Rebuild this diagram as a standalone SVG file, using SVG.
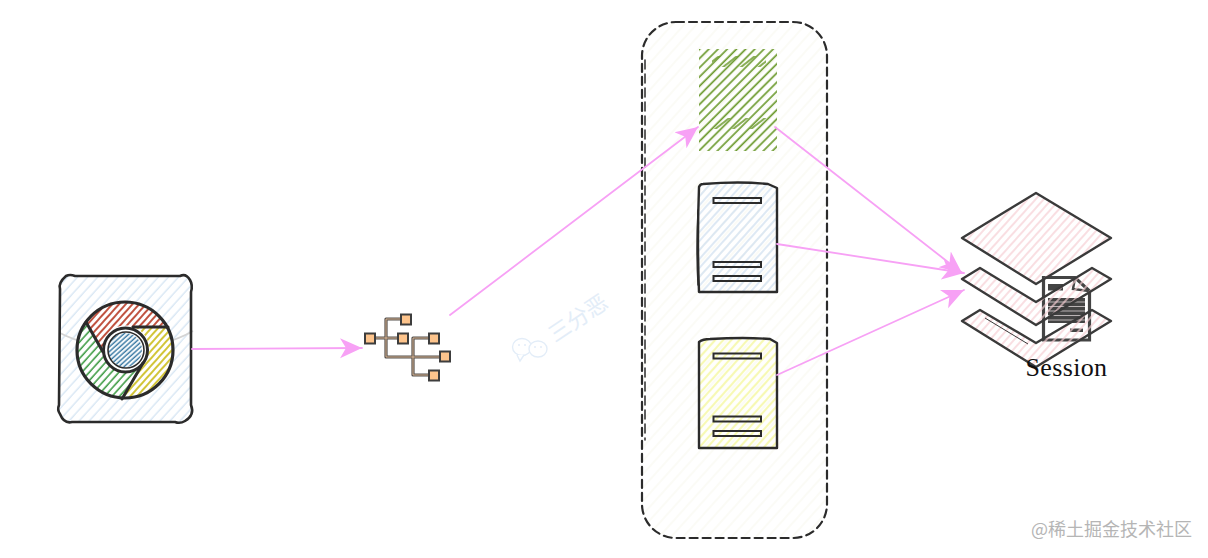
<svg xmlns="http://www.w3.org/2000/svg" width="1208" height="558" viewBox="0 0 1208 558">
<style>
.ink{fill:none;stroke:#2b2b2b;stroke-linecap:round;stroke-linejoin:round}
.c{fill:none;stroke:#f7a1f5;stroke-width:1.8;stroke-linecap:round}
.bar{fill:none;stroke:#2b2b2b;stroke-width:2}
.sq{fill:#fdc48c;stroke:#3d3d3d;stroke-width:2}
.net{fill:none;stroke:#55504d;stroke-width:3.2;stroke-linejoin:round}
.netin{fill:none;stroke:#e8c09a;stroke-width:.9}
.sess{stroke:#3a3a3a;stroke-width:2.4;stroke-linejoin:round;fill:url(#hPink)}
.wm{font-family:"Noto Sans CJK SC","Liberation Sans",sans-serif}
</style>
<defs>
<pattern id="hBlue" width="7.500" height="40" patternUnits="userSpaceOnUse" patternTransform="rotate(42)"><line x1="3" y1="0" x2="3" y2="40" stroke="#d5e4f3" stroke-width="1.300"/></pattern>
<pattern id="hBlue2" width="6" height="40" patternUnits="userSpaceOnUse" patternTransform="rotate(42)"><line x1="3" y1="0" x2="3" y2="40" stroke="#d3e2f1" stroke-width="1.500"/></pattern>
<pattern id="hYellow" width="6" height="40" patternUnits="userSpaceOnUse" patternTransform="rotate(42)"><line x1="3" y1="0" x2="3" y2="40" stroke="#f7f9b4" stroke-width="2.200"/></pattern>
<pattern id="hGreen" width="6.500" height="40" patternUnits="userSpaceOnUse" patternTransform="rotate(45)"><line x1="3" y1="0" x2="3" y2="40" stroke="#6c9a2e" stroke-width="1.700"/></pattern>
<pattern id="hGreen2" width="11" height="40" patternUnits="userSpaceOnUse" patternTransform="rotate(52)"><line x1="3" y1="0" x2="3" y2="40" stroke="#6c9a2e" stroke-width="1.600"/></pattern>
<pattern id="hPale" width="9" height="40" patternUnits="userSpaceOnUse" patternTransform="rotate(42)"><line x1="3" y1="0" x2="3" y2="40" stroke="#fafaf4" stroke-width="1.600"/></pattern>
<pattern id="hPink" width="6" height="40" patternUnits="userSpaceOnUse" patternTransform="rotate(42)"><line x1="3" y1="0" x2="3" y2="40" stroke="#f6cdd3" stroke-width="1.300"/></pattern>
<pattern id="hRed" width="5" height="40" patternUnits="userSpaceOnUse" patternTransform="rotate(42)"><line x1="2" y1="0" x2="2" y2="40" stroke="#b5341e" stroke-width="1.700"/></pattern>
<pattern id="hGr" width="5.500" height="40" patternUnits="userSpaceOnUse" patternTransform="rotate(42)"><line x1="2" y1="0" x2="2" y2="40" stroke="#3f9c45" stroke-width="1.600"/></pattern>
<pattern id="hYe" width="5" height="40" patternUnits="userSpaceOnUse" patternTransform="rotate(42)"><line x1="2" y1="0" x2="2" y2="40" stroke="#cdbf22" stroke-width="1.800"/></pattern>
<pattern id="hBl" width="3.500" height="40" patternUnits="userSpaceOnUse" patternTransform="rotate(48)"><line x1="2" y1="0" x2="2" y2="40" stroke="#3a79a3" stroke-width="1.500"/></pattern>
<marker id="arr" markerUnits="userSpaceOnUse" markerWidth="24" markerHeight="22" refX="22" refY="11" orient="auto"><path d="M0 1 L22 11 L0 21 L6 11 Z" fill="#f7a1f5"/></marker>
</defs>
<rect width="1208" height="558" fill="#fff"/>

<g id="container">
<rect x="642" y="22" width="185" height="516" rx="34" fill="url(#hPale)"/>
<rect x="642" y="22" width="185" height="516" rx="34" class="ink" stroke-width="2.200" stroke-dasharray="8 5"/>
<path d="M645 60V440" class="ink" stroke-width="1.500" stroke-dasharray="9 5"/>
</g>

<g id="browser">
<path d="M60 289Q58 283 66 276Q70 274 75 276H180Q186 273 190 280Q193 285 191 292V405Q195 415 185 421Q180 424 175 422H72Q64 424 60 414Q57 410 59 405Z" fill="url(#hBlue)"/>
<path d="M60 333Q85 346 125 349Q165 347 193 331" fill="none" stroke="#d4d4d4" stroke-width="1.800"/>
<circle cx="125" cy="350" r="48" fill="#fff"/>
<path d="M86 322A48 48 0 0 1 168 327H133A22 22 0 0 0 103 350Z" fill="url(#hRed)"/>
<path d="M168 327A48 48 0 0 1 122 398L143 363A22 22 0 0 0 133 327Z" fill="url(#hYe)"/>
<path d="M86 322A48 48 0 0 0 122 398L143 363A22 22 0 0 1 103 350Z" fill="url(#hGr)"/>
<circle cx="125" cy="350" r="17" fill="#fff"/>
<circle cx="125" cy="350" r="17" fill="url(#hBl)"/>
<path d="M60 289Q58 283 66 276Q70 274 75 276H180Q186 273 190 280Q193 285 191 292V405Q195 415 185 421Q180 424 175 422H72Q64 424 60 414Q57 410 59 405Z" class="ink" stroke-width="2.600"/>
<circle cx="125" cy="350" r="48" class="ink" stroke-width="3.200"/>
<circle cx="125.500" cy="350" r="22" class="ink" stroke-width="3"/>
<circle cx="126" cy="350" r="18" class="ink" stroke-width="1.600"/>
<path d="M86 322L103 352M133 327H168M143 363L122 399" class="ink" stroke-width="3"/>
</g>

<g id="gateway">
<path d="M403 319H386V357H445M370 338H402M433 338H413V375H433" class="net"/>
<path d="M403 319H386V357H445M370 338H402M433 338H413V375H433" class="netin"/>
<rect x="401" y="314.500" width="10" height="10" class="sq"/>
<rect x="365" y="333.500" width="10" height="10" class="sq"/>
<rect x="398" y="333.500" width="10" height="10" class="sq"/>
<rect x="429" y="333.500" width="10" height="10" class="sq"/>
<rect x="440" y="351.500" width="10" height="10" class="sq"/>
<rect x="429" y="370.500" width="10" height="10" class="sq"/>
</g>

<g id="watermark">
<g fill="#fff" stroke="#e3edf8" stroke-width="1.400">
<ellipse cx="522" cy="347" rx="9.500" ry="8.500"/>
<path d="M517 355L520 361L524 355"/>
<ellipse cx="538" cy="349" rx="9" ry="8"/>
</g>
<g fill="#e3edf8"><circle cx="519" cy="345" r="1"/><circle cx="525" cy="345" r="1"/><circle cx="535" cy="347" r="1"/><circle cx="541" cy="347" r="1"/></g>
<text transform="translate(555 343) rotate(-34)" font-size="22" fill="#e3edf8" class="wm">三分恶</text>
</g>

<g id="server-green">
<rect x="699" y="49" width="78" height="102" fill="url(#hGreen)"/>
<rect x="712" y="56" width="54" height="11" fill="url(#hGreen2)"/>
<rect x="712" y="118" width="54" height="11" fill="url(#hGreen2)"/>
</g>

<g id="server-blue">
<path d="M699 187Q700 184 703 184Q740 181 768 184L777 188V292H699Q697 240 699 187Z" fill="url(#hBlue2)"/>
<path d="M699 187Q700 184 703 184Q740 181 768 184L777 188V292H699Q697 240 699 187Z" class="ink" stroke-width="2.400"/>
<path d="M698 210Q696 250 698 285" class="ink" stroke-width="1.400"/>
<rect x="713.500" y="198" width="47.500" height="5" fill="#fff" class="bar"/>
<rect x="713.500" y="262" width="47.500" height="5" fill="#fff" class="bar"/>
<rect x="713.500" y="276" width="47.500" height="5" fill="#fff" class="bar"/>
</g>

<g id="server-yellow">
<path d="M699 342Q703 339 710 339Q745 337 770 339L777 343V448H699Z" fill="url(#hYellow)"/>
<path d="M699 342Q703 339 710 339Q745 337 770 339L777 343V448H699Z" class="ink" stroke-width="2.400"/>
<rect x="713.500" y="353.500" width="47.500" height="5" fill="#fff" class="bar"/>
<rect x="713.500" y="416.500" width="47.500" height="5" fill="#fff" class="bar"/>
<rect x="713.500" y="431" width="47.500" height="5" fill="#fff" class="bar"/>
</g>

<g id="session">
<g id="session-doc">
<path d="M1043.500 277.500H1075L1089.500 291V340H1043.500Z" fill="#fff" stroke="#444" stroke-width="3.200"/>
<path d="M1075 278L1073 289L1089 291" fill="none" stroke="#444" stroke-width="2.400"/>
<rect x="1048" y="284" width="15" height="6.500" fill="#444"/>
<rect x="1048" y="298" width="37" height="25" fill="#444"/>
<g stroke="#d8d0d2" stroke-width=".8"><path d="M1048 302H1085M1048 306.500H1085M1048 311H1085M1048 315.500H1085M1048 320H1085"/></g>
<rect x="1070" y="328.500" width="13" height="3.500" fill="#444"/>
</g>
<path d="M962 321L980 310L1036 343L1092 310L1111 321L1036 367Z" class="sess"/>
<path d="M962 279L980 268L1036 302L1092 268L1111 279L1036 325Z" class="sess"/>
<path d="M1036 193L1111 238L1036 284L962 238Z" class="sess"/>
<path d="M985 318L1028 344" fill="none" stroke="#3a3a3a" stroke-width="1"/>
<text x="1025.500" y="376" font-family="'Liberation Serif',serif" font-size="26" letter-spacing=".35" fill="#111">Session</text>
</g>

<g id="connectors">
<path d="M192 349L362 348" class="c" marker-end="url(#arr)"/>
<path d="M450 315L698 127" class="c" marker-end="url(#arr)"/>
<path d="M775 127L962 273" class="c" marker-end="url(#arr)"/>
<path d="M777 244L964 273" class="c" marker-end="url(#arr)"/>
<path d="M777 375L964 290" class="c" marker-end="url(#arr)"/>
</g>

<text id="credit" x="1031" y="536" font-size="18" fill="#b5b5b5" class="wm">@稀土掘金技术社区</text>
</svg>
